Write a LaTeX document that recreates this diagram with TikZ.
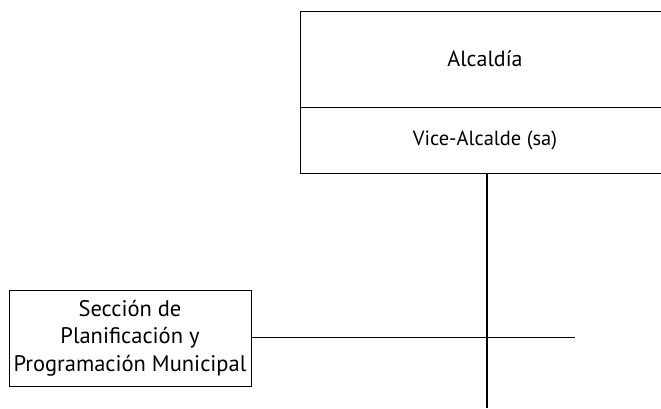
\documentclass[tikz,border=0pt]{standalone}
\usepackage{fontspec}
\setmainfont{PT Sans}
\begin{document}
\begin{tikzpicture}[x=1pt,y=-1pt,
  box/.style={draw=black,line width=0.9pt,inner sep=0pt,align=center,fill=white},
  conn/.style={draw=black,line width=1pt},
  vconn/.style={draw=black,line width=1.8pt}]
\useasboundingbox (0,0) rectangle (661,408);
\node[box,minimum width=370pt,minimum height=96pt,font=\fontsize{22}{26}\selectfont] (alc) at (485,59) {\raisebox{-2pt}{Alcaldía}};
\node[box,minimum width=370pt,minimum height=66pt,font=\fontsize{20.5}{24}\selectfont] (vice) at (485,140) {Vice-Alcalde (sa)};
\node[box,minimum width=242pt,minimum height=96pt,font=\fontsize{22.5}{27.5}\selectfont] (sec) at (130,338) {\raisebox{-2pt}{\parbox{240pt}{\centering Sección de\\Planificación y\\Programación Municipal}}};
\coordinate (vtop) at (486.7,173);
\coordinate (vbot) at (486.7,408);
\coordinate (hend) at (575,337);
\draw[vconn] (vtop) -- (vbot);
\draw[conn] (sec.east |- hend) -- (hend);
\end{tikzpicture}
\end{document}
